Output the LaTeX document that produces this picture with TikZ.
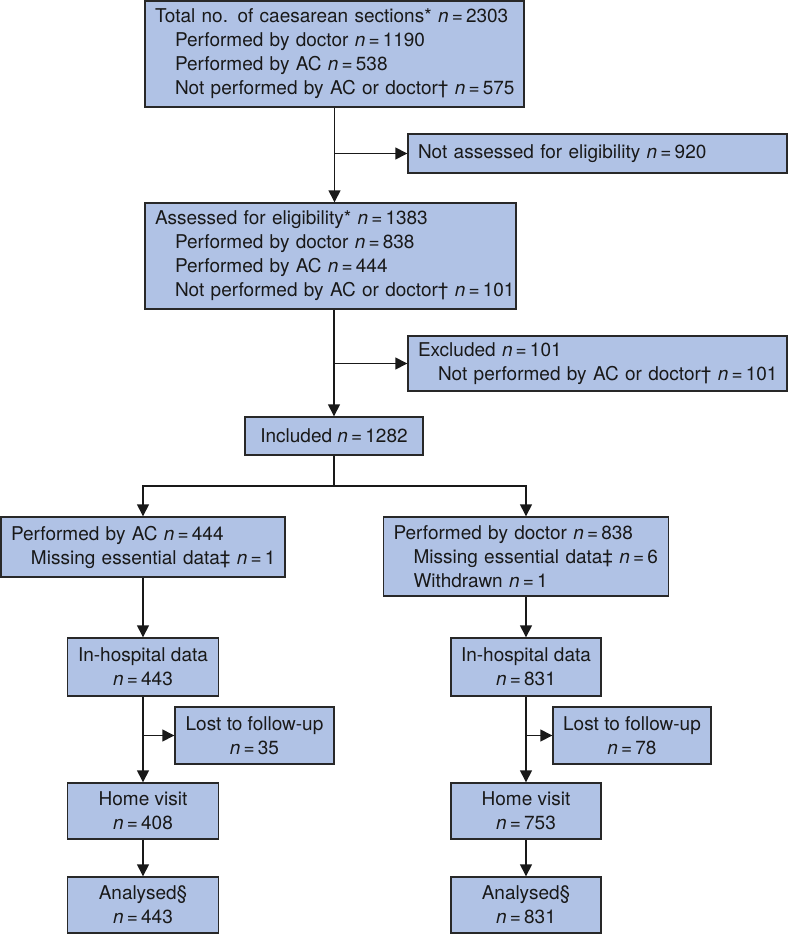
\documentclass[tikz,border=0pt]{standalone}
\usepackage{fontspec}
\setmainfont{TeX Gyre Heros}
\usetikzlibrary{arrows.meta}
\definecolor{boxfill}{RGB}{176,194,229}
\definecolor{boxline}{RGB}{40,40,40}
\def\nval#1{\textit{n}\,=\,#1}
\def\subline#1{\mbox{\hspace{20pt}#1}}
\tikzset{
	flowbox/.style={draw=boxline, fill=boxfill, line width=1.4pt, inner xsep=10pt, inner ysep=0pt, font=\fontsize{19}{24}\selectfont, text=black!90},
	leftbox/.style={flowbox, align=left},
	midbox/.style={flowbox, align=center},
	flowarrow/.style={draw=black!90, line width=1.4pt, -{Triangle[width=12pt,length=12pt]}}
}

\begin{document}
\begin{tikzpicture}[x=1pt, y=-1pt]
		%%%%% START %%%%%
		\useasboundingbox (0,0) rectangle (788,936);
		
		\node[leftbox, text width=359pt, minimum height=106pt] (total) at (334.5,54) {\mbox{Total no. of caesarean sections* \nval{2303}}\\ \subline{Performed by doctor \nval{1190}}\\ \subline{Performed by AC \nval{538}}\\ \subline{Not performed by AC or doctor† \nval{575}}};
		\node[leftbox, text width=359pt, minimum height=39pt] (notass) at (597.5,153.5) {\mbox{Not assessed for eligibility \nval{920}}};
		\node[leftbox, text width=351pt, minimum height=106pt] (assessed) at (330.5,256) {\mbox{Assessed for eligibility* \nval{1383}}\\ \subline{Performed by doctor \nval{838}}\\ \subline{Performed by AC \nval{444}}\\ \subline{Not performed by AC or doctor† \nval{101}}};
		\node[leftbox, text width=359pt, minimum height=55pt] (excluded) at (597.5,363.5) {\mbox{Excluded \nval{101}}\\ \subline{Not performed by AC or doctor† \nval{101}}};
		\node[midbox, minimum width=178pt, minimum height=38pt] (included) at (334,436) {Included \nval{1282}};
		\coordinate (split) at (334,486);
		
		% AC arm
		\node[leftbox, text width=264pt, minimum height=60pt] (ac) at (143,547) {\mbox{Performed by AC \nval{444}}\\ \subline{Missing essential data‡ \nval{1}}};
		\node[midbox, minimum width=151pt, minimum height=58pt] (hospA) at (143,667) {In-hospital data\\ \nval{443}};
		\node[midbox, minimum width=159pt, minimum height=57pt] (lostA) at (254.5,735.5) {Lost to follow-up\\ \nval{35}};
		\node[midbox, minimum width=151pt, minimum height=56pt] (homeA) at (143,811) {Home visit\\ \nval{408}};
		\node[midbox, minimum width=151pt, minimum height=56pt] (anaA) at (143,905) {Analysed§\\ \nval{443}};
		
		% doctor arm
		\node[leftbox, text width=265pt, minimum height=79pt] (doc) at (526,556.5) {\mbox{Performed by doctor \nval{838}}\\ \subline{Missing essential data‡ \nval{6}}\\ \subline{Withdrawn \nval{1}}};
		\node[midbox, minimum width=150pt, minimum height=58pt] (hospB) at (526,667) {In-hospital data\\ \nval{831}};
		\node[midbox, minimum width=158pt, minimum height=57pt] (lostB) at (632,735.5) {Lost to follow-up\\ \nval{78}};
		\node[midbox, minimum width=150pt, minimum height=56pt] (homeB) at (526,811) {Home visit\\ \nval{753}};
		\node[midbox, minimum width=150pt, minimum height=56pt] (anaB) at (526,905) {Analysed§\\ \nval{831}};
		
		% connectors
		\draw[flowarrow] (total.south) -- (total.south |- assessed.north);
		\draw[flowarrow] (total.south |- notass) -- (notass);
		\draw[flowarrow] (included.north |- assessed.south) -- (included);
		\draw[flowarrow] (included.north |- excluded) -- (excluded);
		\draw[flowarrow, -] (included) -- (split);
		\draw[flowarrow] (split) -| (ac);
		\draw[flowarrow] (split) -| (doc);
		
		\draw[flowarrow] (ac) -- (hospA);
		\draw[flowarrow] (hospA) -- (homeA);
		\draw[flowarrow] (hospA.south |- lostA) -- (lostA);
		\draw[flowarrow] (homeA) -- (anaA);
		
		\draw[flowarrow] (doc) -- (hospB);
		\draw[flowarrow] (hospB) -- (homeB);
		\draw[flowarrow] (hospB.south |- lostB) -- (lostB);
		\draw[flowarrow] (homeB) -- (anaB);
		%%%%% END %%%%%
\end{tikzpicture}
\end{document}
